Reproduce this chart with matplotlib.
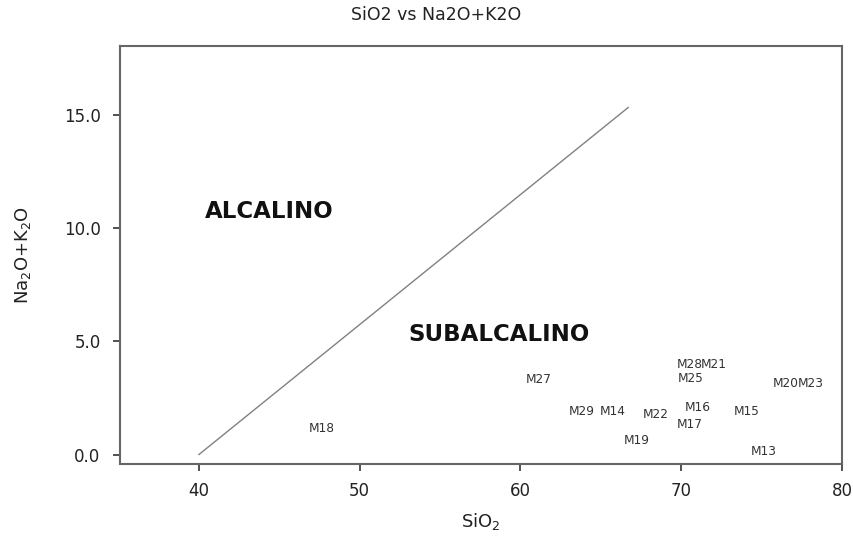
import matplotlib
matplotlib.use("Agg")
import matplotlib.pyplot as plt

samples = ["M27", "M28", "M21", "M25", "M20", "M23", "M29", "M14", "M22",
           "M16", "M15", "M17", "M19", "M13", "M18"]
sio2 = [61.15, 70.55, 72.05, 70.6, 76.5, 78.05, 63.8, 65.75, 68.4,
        71.0, 74.05, 70.55, 67.25, 75.1, 47.65]
alk = [3.34, 3.96, 4.0, 3.38, 3.12, 3.12, 1.92, 1.92, 1.75,
       2.1, 1.92, 1.35, 0.6, 0.15, 1.17]

div_x = [40.0, 66.7]
div_y = [0.0, 15.35]

xticks = [40, 50, 60, 70, 80]
yticks = [0.0, 5.0, 10.0, 15.0]

plt.rcParams['font.family'] = ['DejaVu Sans']

fig = plt.figure(figsize=(8.54, 5.39), dpi=100)
ax = fig.add_axes([0.1405, 0.1391, 0.986 - 0.1405, 0.9147 - 0.1391])

ax.plot(div_x, div_y, color="#808080", lw=1.0)

for s, x, y in zip(samples, sio2, alk):
    ax.text(x, y, s, ha="center", va="center", fontsize=8.7, color="#333333")

ax.text(40.37, 10.77, "ALCALINO", ha="left", va="center", fontsize=16.5,
        fontweight="bold", color="#111111")
ax.text(53.0, 5.29, "SUBALCALINO", ha="left", va="center", fontsize=16.5,
        fontweight="bold", color="#111111")

ax.set_xlim(35.09, 80)
ax.set_ylim(-0.42, 18.07)
ax.set_xticks(xticks)
ax.set_xticklabels([str(v) for v in xticks])
ax.set_yticks(yticks)
ax.set_yticklabels([f"{v:.1f}" for v in yticks])
ax.tick_params(axis="both", labelsize=12, length=5, width=1.3,
               color="#444444", labelcolor="#222222")
ax.tick_params(axis="y", pad=9)
ax.tick_params(axis="x", pad=8)

for sp in ax.spines.values():
    sp.set_color("#666666")
    sp.set_linewidth(1.5)

ax.set_xlabel("SiO$_2$", fontsize=13, color="#222222", labelpad=8)
ax.set_ylabel("Na$_2$O+K$_2$O", fontsize=13, color="#222222", labelpad=22)

fig.text(436 / 854, 1 - 15 / 539, "SiO2 vs Na2O+K2O", ha="center", va="center",
         fontsize=12.5, color="#222222")

fig.savefig("out.png", dpi=100)
